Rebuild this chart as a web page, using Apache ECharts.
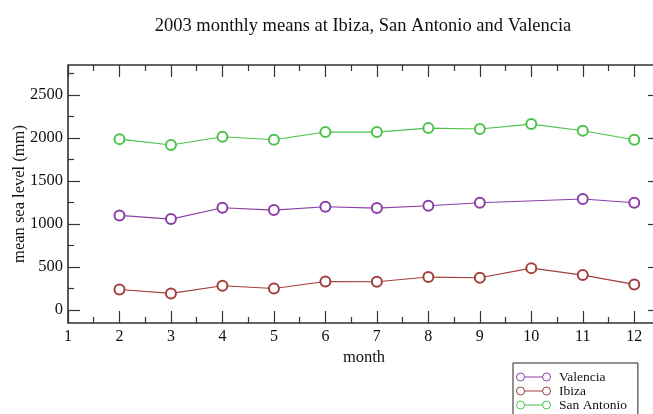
<!DOCTYPE html>
<html>
<head>
<meta charset="utf-8">
<script src="https://cdn.jsdelivr.net/npm/echarts@6/dist/echarts.min.js"></script>
<style>
  html, body { margin: 0; padding: 0; background: #fff; }
  #chart { width: 653px; height: 414px; }
</style>
</head>
<body>
<div id="chart"></div>
<script>
// Monthly mean sea level, 2003 (mm)
const months = [2, 3, 4, 5, 6, 7, 8, 9, 10, 11, 12];
const valencia = [1101, 1058, 1190, 1163, 1202, 1186, 1213, 1248, null, 1291, 1248];
const ibiza = [240, 194, 283, 252, 333, 329, 384, 376, 488, 407, 299];
const sanAntonio = [1988, 1919, 2015, 1980, 2070, 2070, 2116, 2105, 2163, 2085, 1980];

// Axis ticks
const xMajorTicks = [1, 2, 3, 4, 5, 6, 7, 8, 9, 10, 11, 12];
const xMinorTicks = [1.5, 2.5, 3.5, 4.5, 5.5, 6.5, 7.5, 8.5, 9.5, 10.5, 11.5, 12.5];
const yMajorTicks = [0, 500, 1000, 1500, 2000, 2500];
const yMinorTicks = [250, 750, 1250, 1750, 2250, 2750];

const seriesNames = ['Valencia', 'Ibiza', 'San Antonio'];
const seriesColors = ['#8a3fa6', '#a23f3c', '#4cc24c'];
const seriesValues = [valencia, ibiza, sanAntonio];

const FONT = '"Liberation Serif", "DejaVu Serif", serif';
const FRAME = '#333';

const pairs = vals => months.map((m, i) => [m, vals[i]]);

// Two grids share one rectangle: grid 0 carries the major ticks and labels,
// grid 1 the minor ticks. Each grid has one axis on every side of the box.
const gridRect = { left: 68, top: 65, right: -7, bottom: 91, outerBoundsMode: 'none' };

function xAxisDef(gridIndex, position, ticks, len, labels) {
  return {
    gridIndex: gridIndex,
    type: 'value', position: position, min: 1, max: 12.5,
    axisLine: { show: false, onZero: false },
    splitLine: { show: false },
    axisTick: { show: true, inside: true, length: len, customValues: ticks,
                lineStyle: { color: FRAME, width: 1.2 } },
    axisLabel: labels
      ? { show: true, customValues: ticks, formatter: v => String(v),
          color: '#111', fontFamily: FONT, fontSize: 16, margin: 6 }
      : { show: false },
    name: labels ? 'month' : '',
    nameLocation: 'middle', nameGap: 26, nameMoveOverlap: false,
    nameTextStyle: { color: '#111', fontFamily: FONT, fontSize: 16.5 }
  };
}

function yAxisDef(gridIndex, position, ticks, len, labels) {
  return {
    gridIndex: gridIndex,
    type: 'value', position: position, min: -150, max: 2850,
    axisLine: { show: false, onZero: false },
    splitLine: { show: false },
    axisTick: { show: true, inside: true, length: len, customValues: ticks,
                lineStyle: { color: FRAME, width: 1.2 } },
    axisLabel: labels
      ? { show: true, customValues: ticks, formatter: v => String(v),
          color: '#111', fontFamily: FONT, fontSize: 16.5, margin: 5 }
      : { show: false },
    name: labels ? 'mean sea level (mm)' : '',
    nameLocation: 'middle', nameGap: 40, nameMoveOverlap: false,
    nameTextStyle: { color: '#111', fontFamily: FONT, fontSize: 16.5 }
  };
}

// Legend icon: a short line with a ring at each end
const legendIcon = 'path://M1,5a4,4 0 1,0 8,0a4,4 0 1,0 -8,0M9,5L27,5M27,5a4,4 0 1,0 8,0a4,4 0 1,0 -8,0';

const chart = echarts.init(document.getElementById('chart'), null, { renderer: 'canvas' });
chart.setOption({
  backgroundColor: '#fff',
  animation: false,
  title: {
    text: '2003 monthly means at Ibiza, San Antonio and Valencia',
    left: 358, top: 12, textAlign: 'center',
    textStyle: { fontFamily: FONT, fontSize: 18.5, fontWeight: 'normal', color: '#111' }
  },
  grid: [
    Object.assign({ show: true, borderColor: FRAME, borderWidth: 1.6, backgroundColor: 'transparent' }, gridRect),
    Object.assign({ show: false }, gridRect)
  ],
  legend: {
    orient: 'vertical', left: 513, top: 363, height: 48,
    padding: [7, 11, 8, 3], itemGap: 0,
    itemWidth: 35, itemHeight: 8,
    borderColor: '#222', borderWidth: 1, backgroundColor: '#fff',
    textStyle: { fontFamily: FONT, fontSize: 13.5, color: '#111', padding: [0, 0, 0, 3] },
    data: seriesNames.map((n, i) => ({
      name: n, icon: legendIcon,
      itemStyle: { color: 'transparent', borderColor: seriesColors[i], borderWidth: 1 }
    }))
  },
  xAxis: [
    xAxisDef(0, 'bottom', xMajorTicks, 12, true),
    xAxisDef(0, 'top', xMajorTicks, 12, false),
    xAxisDef(1, 'bottom', xMinorTicks, 6, false),
    xAxisDef(1, 'top', xMinorTicks, 6, false)
  ],
  yAxis: [
    yAxisDef(0, 'left', yMajorTicks, 12, true),
    yAxisDef(0, 'right', yMajorTicks, 12, false),
    yAxisDef(1, 'left', yMinorTicks, 6, false),
    yAxisDef(1, 'right', yMinorTicks, 6, false)
  ],
  series: seriesNames.map((n, i) => ({
    name: n, type: 'line',
    xAxisIndex: 0, yAxisIndex: 0,
    data: pairs(seriesValues[i]),
    connectNulls: true,
    symbol: 'emptyCircle', symbolSize: 10, showAllSymbol: true,
    color: seriesColors[i],
    lineStyle: { color: seriesColors[i], width: 1.1 },
    itemStyle: { color: seriesColors[i], borderColor: seriesColors[i], borderWidth: 1 },
    emphasis: { disabled: true }
  }))
});
</script>
</body>
</html>
